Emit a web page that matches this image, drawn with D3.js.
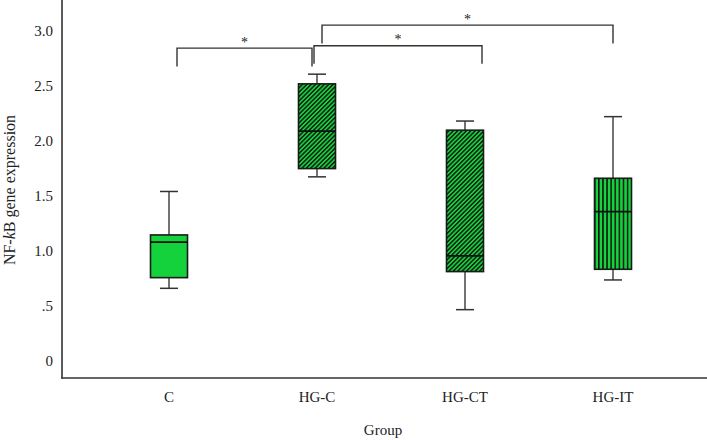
<!DOCTYPE html>
<html><head><meta charset="utf-8">
<script src="https://cdn.jsdelivr.net/npm/d3@7"></script>
<style>body{margin:0;background:#fff}svg{display:block}text{font-family:"Liberation Serif","DejaVu Serif",serif;fill:#222}</style>
</head><body>
<svg id="c" width="707" height="440"></svg>
<script>
const groups = ["C", "HG-C", "HG-CT", "HG-IT"];
const whiskerLow = [0.66, 1.673, 0.466, 0.736];
const q1 = [0.757, 1.748, 0.812, 0.833];
const median = [1.08, 2.088, 0.955, 1.357];
const q3 = [1.145, 2.518, 2.097, 1.66];
const whiskerHigh = [1.54, 2.606, 2.18, 2.22];
const fills = ["solid", "diag", "diag", "vert"];
const yTicks = [0, 0.5, 1.0, 1.5, 2.0, 2.5, 3.0];
const yTickLabels = ["0", ".5", "1.0", "1.5", "2.0", "2.5", "3.0"];
const brFrom = ["C", "HG-C", "HG-C"];
const brTo = ["HG-C", "HG-CT", "HG-IT"];
const brTop = [2.843, 2.864, 3.052];
const brBottom = [2.675, 2.70, 2.885];
const brLabel = ["*", "*", "*"];

const svg = d3.select("#c");
const green = "#14d23c";
const x = d3.scaleBand().domain(groups).range([95, 687]).padding(0);
const y = d3.scaleLinear().domain([-0.155, 3.28]).range([378, 0]);
const bw = 37, cap = 18;

const defs = svg.append("defs");
const pd = defs.append("pattern").attr("id","diag").attr("patternUnits","userSpaceOnUse")
  .attr("width",3.1).attr("height",3.1).attr("patternTransform","rotate(45)");
pd.append("rect").attr("width",3.1).attr("height",3.1).attr("fill",green);
pd.append("rect").attr("width",1.4).attr("height",3.1).attr("fill","#111");
const pv = defs.append("pattern").attr("id","vert").attr("patternUnits","userSpaceOnUse")
  .attr("width",4.1).attr("height",4).attr("x",594);
pv.append("rect").attr("width",4.1).attr("height",4).attr("fill",green);
pv.append("rect").attr("width",1.5).attr("height",4).attr("fill","#111");

// axes
const yAxis = d3.axisLeft(y).tickValues(yTicks).tickFormat((d,i)=>yTickLabels[i]).tickSize(0).tickPadding(9);
const gy = svg.append("g").attr("transform","translate(62,0)").call(yAxis);
gy.select(".domain").remove();
gy.selectAll("text").attr("font-size","15px").attr("fill","#222");
const xAxis = d3.axisBottom(x).tickSize(0).tickPadding(13);
const gx = svg.append("g").attr("transform","translate(0,378)").call(xAxis);
gx.select(".domain").remove();
gx.selectAll("text").attr("font-size","15px").attr("fill","#222");
svg.append("line").attr("x1",62).attr("x2",62).attr("y1",0).attr("y2",378.5).attr("stroke","#333").attr("stroke-width",1.6);
svg.append("line").attr("x1",61.2).attr("x2",707).attr("y1",378).attr("y2",378).attr("stroke","#333").attr("stroke-width",1.6);

// boxes
groups.forEach((g,i)=>{
  const cx = x(g) + x.bandwidth()/2;
  const gg = svg.append("g");
  gg.append("line").attr("x1",cx).attr("x2",cx).attr("y1",y(whiskerHigh[i])).attr("y2",y(q3[i])).attr("stroke","#444").attr("stroke-width",1.5);
  gg.append("line").attr("x1",cx).attr("x2",cx).attr("y1",y(q1[i])).attr("y2",y(whiskerLow[i])).attr("stroke","#444").attr("stroke-width",1.5);
  gg.append("line").attr("x1",cx-cap/2).attr("x2",cx+cap/2).attr("y1",y(whiskerHigh[i])).attr("y2",y(whiskerHigh[i])).attr("stroke","#333").attr("stroke-width",1.5);
  gg.append("line").attr("x1",cx-cap/2).attr("x2",cx+cap/2).attr("y1",y(whiskerLow[i])).attr("y2",y(whiskerLow[i])).attr("stroke","#333").attr("stroke-width",1.5);
  const fill = fills[i]==="solid" ? green : `url(#${fills[i]})`;
  gg.append("rect").attr("x",cx-bw/2).attr("width",bw).attr("y",y(q3[i])).attr("height",y(q1[i])-y(q3[i]))
    .attr("fill",fill).attr("stroke","#1a1a1a").attr("stroke-width",1.6);
  gg.append("line").attr("x1",cx-bw/2).attr("x2",cx+bw/2).attr("y1",y(median[i])).attr("y2",y(median[i])).attr("stroke","#111").attr("stroke-width",1.8);
});

// significance brackets
const offL = [8, -3, 5], offR = [-5, 17, 0];
brFrom.forEach((f,i)=>{
  const x1 = x(f)+x.bandwidth()/2+offL[i], x2 = x(brTo[i])+x.bandwidth()/2+offR[i];
  const yt = y(brTop[i]), yb = y(brBottom[i]);
  svg.append("path").attr("d",`M${x1},${yb}V${yt}H${x2}V${yb}`).attr("fill","none").attr("stroke","#333").attr("stroke-width",1.4);
  svg.append("text").attr("x",(x1+x2)/2).attr("y",yt-1.5).attr("text-anchor","middle").attr("font-size","14px").text(brLabel[i]);
});

// axis titles
const yl = svg.append("text").attr("transform","translate(15,190) rotate(-90)").attr("text-anchor","middle").attr("font-size","16px");
yl.append("tspan").text("NF-");
yl.append("tspan").attr("font-style","italic").text("k");
yl.append("tspan").text("B gene expression");
svg.append("text").attr("x",383).attr("y",435).attr("text-anchor","middle").attr("font-size","15px").text("Group");
</script>
</body></html>
